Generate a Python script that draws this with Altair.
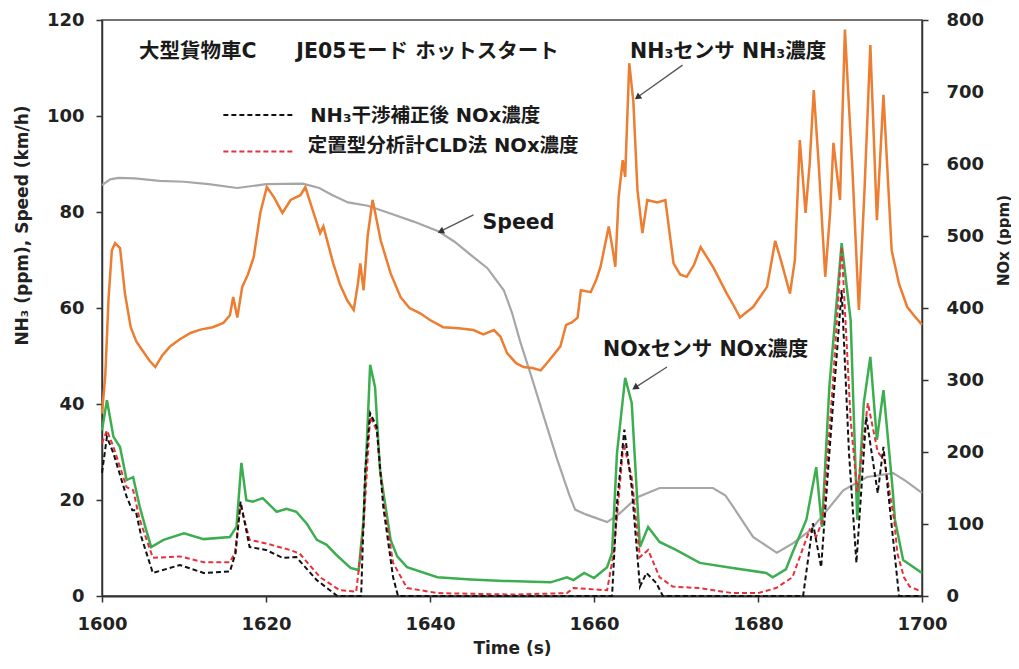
import altair as alt
import pandas as pd

# ---------------- data ----------------
nh3_t = [1600.0, 1600.4, 1600.8, 1601.2, 1601.6, 1602.2, 1602.8, 1603.5, 1604.2, 1605.0,
         1605.8, 1606.5, 1607.3, 1608.3, 1609.5, 1610.8, 1612.0, 1613.5, 1614.8, 1615.6,
         1616.0, 1616.5, 1617.1, 1617.8, 1618.5, 1619.3, 1620.1, 1621.0, 1622.0, 1623.0,
         1624.2, 1624.8, 1625.8, 1626.6, 1627.0, 1628.2, 1629.0, 1629.9, 1630.7, 1631.2,
         1631.5, 1631.9, 1632.4, 1633.0, 1634.0, 1635.2, 1636.4, 1637.5, 1638.8, 1640.0,
         1641.6, 1643.5, 1645.3, 1646.5, 1647.8, 1648.6, 1649.4, 1650.5, 1651.4, 1652.5,
         1653.5, 1654.5, 1655.9, 1656.6, 1657.3, 1658.0, 1658.4, 1659.6, 1660.3, 1660.8,
         1661.8, 1662.3, 1662.6, 1663.0, 1663.5, 1663.8, 1664.3, 1664.8, 1665.3, 1665.9,
         1666.5, 1667.7, 1668.7, 1669.7, 1670.5, 1671.3, 1672.2, 1673.0, 1674.5, 1676.2,
         1677.2, 1677.8, 1678.5, 1679.4, 1681.1, 1682.1, 1682.9, 1683.9, 1684.5, 1685.1,
         1685.8, 1686.3, 1686.8, 1687.4, 1688.2, 1688.8, 1689.2, 1690.0, 1690.6, 1691.0,
         1691.5, 1692.3, 1693.0, 1693.7, 1694.5, 1695.3, 1696.3, 1697.2, 1698.2, 1699.0,
         1699.8, 1700.0]
nh3_v = [38, 46, 62, 72, 73.5, 72.5, 63, 56, 53, 51,
         49, 47.7, 50, 52, 53.5, 54.8, 55.5, 56, 56.9, 58.5,
         62.3, 58, 64.4, 67, 70.6, 79.8, 85.2, 83, 79.8, 82.5,
         83.5, 85.2, 79.8, 75.6, 77, 69.3, 65, 61.6, 59.6, 65,
         69.3, 63.7, 75, 82.5, 74, 67.2, 62.3, 60, 58.9, 57.5,
         56, 55.8, 55.4, 54.5, 55.4, 54, 50.6, 48.5, 47.7, 47.5,
         47, 49, 52, 56.5, 57, 58, 63.7, 63.3, 66, 68.6,
         77, 72, 68.6, 83, 90.8, 87.3, 111, 103, 84.6, 75.6,
         82.5, 82, 82.5, 69.3, 67, 66.5, 69, 72.7, 68.6, 63,
         60, 58, 59, 60.2, 64.4, 74, 69.3, 63, 70, 95,
         79.8, 90, 105.4, 90, 66.5, 80, 94.4, 82.5, 118, 105,
         89.4, 59.6, 85, 114.8, 78.3, 104.4, 72, 65, 60.2, 58.5,
         56.9, 56.5]

speed_t = [1600.0, 1601.0, 1602.0, 1604.0, 1607.0, 1610.0, 1613.0, 1616.5, 1620.0, 1624.5,
           1626.5, 1628.0, 1630.0, 1632.4, 1635.0, 1638.0, 1641.0, 1643.0, 1645.0, 1647.0,
           1649.0, 1650.0, 1651.0, 1652.5, 1654.0, 1655.5, 1657.0, 1657.7, 1659.0, 1661.6,
           1663.0, 1665.3, 1668.0, 1674.5, 1676.0, 1677.0, 1679.4, 1682.3, 1684.3, 1686.4,
           1688.0, 1690.4, 1693.3, 1696.5, 1698.0, 1700.0]
speed_v = [85.6, 86.8, 87.1, 87.0, 86.5, 86.3, 85.8, 85.0, 85.8, 85.9,
           85.0, 83.6, 82.0, 81.3, 79.8, 78.0, 76.0, 73.8, 71.0, 68.3,
           63.7, 59.0, 53.0, 45.0, 36.7, 28.5, 21.0, 18.0, 17.0, 15.4,
           17.0, 20.6, 22.5, 22.5, 21.0, 18.5, 12.3, 9.0, 11.0, 13.7,
           17.0, 22.0, 24.8, 25.6, 24.0, 21.5]

sensor_t = [1600.0, 1600.6, 1601.4, 1602.2, 1603.0, 1603.8, 1604.6, 1605.3, 1606.0, 1607.5,
            1610.0, 1612.4, 1615.6, 1616.4, 1617.0, 1617.6, 1618.4, 1619.6, 1621.3, 1622.5,
            1623.7, 1625.0, 1626.2, 1627.4, 1628.5, 1630.3, 1631.3, 1631.9, 1632.7, 1633.3,
            1633.9, 1635.2, 1636.0, 1637.2, 1640.9, 1645.0, 1649.0, 1654.7, 1656.7, 1657.5,
            1658.8, 1660.0, 1661.6, 1662.2, 1662.8, 1663.8, 1664.6, 1665.6, 1666.6, 1668.0,
            1670.0, 1672.9, 1676.9, 1681.0, 1681.8, 1683.4, 1684.2, 1685.9, 1687.1, 1687.8,
            1688.7, 1690.2, 1691.3, 1692.1, 1692.9, 1693.7, 1694.5, 1695.3, 1696.4, 1696.7,
            1697.7, 1700.0]
sensor_v = [230, 272, 221, 207, 161, 165, 124, 95, 68, 78,
            87, 79, 82, 96, 185, 133, 131, 136, 117, 121,
            117, 100, 78, 71, 58, 39, 36, 106, 321, 290,
            175, 78, 55, 40, 26, 23, 21, 19, 26, 22,
            32, 25, 40, 60, 198, 303, 268, 68, 96, 75,
            64, 46, 39, 32, 26, 37, 60, 106, 179, 96,
            290, 490, 383, 106, 268, 332, 217, 286, 151, 106,
            50, 32]

cld_t = [1600.0, 1600.6, 1601.4, 1603.0, 1603.8, 1604.6, 1606.2, 1609.5, 1612.4, 1615.6,
         1616.2, 1616.9, 1618.0, 1620.0, 1622.9, 1624.1, 1626.6, 1629.0, 1631.0, 1631.9,
         1632.7, 1633.5, 1634.3, 1635.5, 1637.2, 1641.0, 1650.0, 1656.7, 1657.5, 1661.6,
         1662.4, 1663.6, 1664.6, 1665.6, 1666.6, 1668.0, 1669.6, 1672.9, 1676.9, 1680.0,
         1682.2, 1684.2, 1686.3, 1687.1, 1687.9, 1689.1, 1690.2, 1691.3, 1692.1, 1693.4,
         1694.6, 1695.4, 1696.6, 1697.0, 1697.8, 1698.5, 1700.0]
cld_v = [212, 230, 207, 151, 147, 106, 53, 55, 47, 47,
         60, 126, 78, 73, 64, 59, 26, 8, 6, 96,
         249, 230, 133, 46, 11, 4, 2, 4, 11, 8,
         60, 212, 165, 54, 64, 26, 13, 11, 4, 4,
         11, 26, 92, 82, 106, 290, 485, 244, 145, 268,
         200, 189, 106, 59, 26, 13, 6]

corr_t = [1600.0, 1600.6, 1601.4, 1603.0, 1603.7, 1604.1, 1604.8, 1606.2, 1609.5, 1612.4,
          1615.6, 1616.3, 1616.9, 1618.0, 1620.0, 1622.0, 1623.7, 1626.2, 1628.7, 1631.6,
          1632.1, 1632.7, 1633.5, 1634.3, 1635.5, 1636.1, 1662.2, 1662.8, 1663.7, 1664.6,
          1665.6, 1666.4, 1667.6, 1668.4, 1685.5, 1686.7, 1687.7, 1688.7, 1690.2, 1691.1,
          1692.0, 1693.2, 1694.6, 1695.3, 1696.4, 1697.2, 1700.0]
corr_v = [171, 221, 198, 138, 119, 119, 82, 32, 43, 32,
          34, 60, 131, 68, 64, 53, 54, 22, 0, 0,
          175, 254, 235, 124, 26, 0, 0, 129, 231, 151,
          13, 32, 18, 0, 0, 101, 40, 198, 425, 198,
          46, 249, 143, 207, 87, 0, 0]

x_ticks = [1600, 1620, 1640, 1660, 1680, 1700]
left_ticks = [0, 20, 40, 60, 80, 100, 120]
right_ticks = [0, 100, 200, 300, 400, 500, 600, 700, 800]

# annotation texts
label_texts = ["大型貨物車C", "JE05モード ホットスタート", "NH₃センサ NH₃濃度", "Speed", "NOxセンサ NOx濃度"]
label_t = [1604.5, 1623.7, 1664.4, 1646.4, 1661.1]
label_v = [113.3, 113.3, 113.3, 77.7, 51.3]

legend_texts = ["NH₃干渉補正後 NOx濃度", "定置型分析計CLD法 NOx濃度"]
legend_colors = ["#111111", "#E8303A"]

# ---------------- frames ----------------
nh3_df = pd.DataFrame({"t": nh3_t, "v": nh3_v})
speed_df = pd.DataFrame({"t": speed_t, "v": speed_v})
sensor_df = pd.DataFrame({"t": sensor_t, "n": sensor_v})
cld_df = pd.DataFrame({"t": cld_t, "n": cld_v})
corr_df = pd.DataFrame({"t": corr_t, "n": corr_v})
labels_df = pd.DataFrame({"t": label_t, "v": label_v, "text": label_texts})

FONT = "DejaVu Sans"
JFONT = "'DejaVu Sans', 'Noto Sans CJK JP', sans-serif"

x_enc = alt.X("t:Q",
              scale=alt.Scale(domain=[1600, 1700], nice=False, zero=False),
              axis=alt.Axis(values=x_ticks, title="Time (s)", format="d", labelFlush=False,
                            labelFont=FONT, labelFontSize=18, labelFontWeight="bold",
                            labelColor="#222", labelPadding=13,
                            titleFont=FONT, titleFontSize=17, titleFontWeight="bold",
                            titleColor="#222", titleBaseline="middle", titleY=52,
                            domainColor="#333", domainWidth=2, tickColor="#333",
                            tickWidth=1.5, tickSize=6, grid=False))

y_left = alt.Y("v:Q",
               scale=alt.Scale(domain=[0, 120], nice=False),
               axis=alt.Axis(values=left_ticks, title="NH₃ (ppm), Speed (km/h)",
                             labelFont=FONT, labelFontSize=18, labelFontWeight="bold",
                             labelColor="#222", labelPadding=12,
                             titleFont=FONT, titleFontSize=17, titleFontWeight="bold",
                             titleColor="#222", titleBaseline="middle",
                             titleX=-80, titleY=205,
                             domainColor="#333", domainWidth=1.5, tickColor="#333",
                             tickWidth=1.5, tickSize=6, grid=False))

y_right = alt.Y("n:Q",
                scale=alt.Scale(domain=[0, 800], nice=False),
                axis=alt.Axis(orient="right", values=right_ticks, title="NOx (ppm)",
                              labelFont=FONT, labelFontSize=18, labelFontWeight="bold",
                              labelColor="#222", labelPadding=18,
                              titleFont=FONT, titleFontSize=15, titleFontWeight="bold",
                              titleColor="#222", titleBaseline="middle", titleAngle=270,
                              titleX=81, titleY=220,
                              domainColor="#333", domainWidth=1.5, tickColor="#333",
                              tickWidth=1.5, tickSize=6, grid=False))

speed_line = alt.Chart(speed_df).mark_line(color="#A6A6A6", strokeWidth=2.2).encode(x=x_enc, y=y_left)
nh3_line = alt.Chart(nh3_df).mark_line(color="#ED7D31", strokeWidth=2.5).encode(x=x_enc, y=y_left)

text_layer = alt.Chart(labels_df).mark_text(
    align="left", baseline="middle", font=JFONT, fontSize=20.5, fontWeight="bold", color="#1a1a1a"
).encode(x=x_enc, y=y_left, text="text:N")

# arrows (annotation pointers): tail (t, v) -> tip (t2, v2)
arrow_df = pd.DataFrame({
    "t": [1670.8, 1645.3, 1668.9],
    "v": [110.6, 79.4, 47.7],
    "t2": [1665.2, 1641.2, 1664.9],
    "v2": [103.8, 75.9, 43.3],
})
arrow_rules = alt.Chart(arrow_df).mark_rule(color="#555", strokeWidth=1.3).encode(
    x=x_enc, y=y_left, x2="t2:Q", y2="v2:Q")
head_df = pd.DataFrame({
    "t": [1665.3, 1641.3, 1665.0],
    "v": [103.9, 75.95, 43.4],
    "a": [234, 245, 238],
})
arrow_heads = alt.Chart(head_df).mark_point(
    shape="triangle-up", filled=True, size=55, color="#333", opacity=1
).encode(x=x_enc, y=y_left, angle=alt.Angle("a:Q", scale=None))

# legend (drawn inside the plot)
legend_line_df = pd.DataFrame({
    "t": [1614.8, 1614.8],
    "t2": [1623.3, 1623.3],
    "v": [100.2, 92.6],
    "c": legend_colors,
})
legend_lines = alt.Chart(legend_line_df).mark_rule(strokeWidth=2, strokeDash=[5, 3]).encode(
    x=x_enc, y=y_left, x2="t2:Q",
    color=alt.Color("c:N", scale=None))
legend_text_df = pd.DataFrame({
    "t": [1625.4, 1625.1],
    "v": [100.1, 93.7],
    "text": legend_texts,
})
legend_text = alt.Chart(legend_text_df).mark_text(
    align="left", baseline="middle", font=JFONT, fontSize=19.5, fontWeight="bold", color="#1a1a1a"
).encode(x=x_enc, y=y_left, text="text:N")

left = alt.layer(speed_line, nh3_line, text_layer, arrow_rules, arrow_heads, legend_lines, legend_text)

sensor_line = alt.Chart(sensor_df).mark_line(color="#3DAE50", strokeWidth=2.5).encode(x=x_enc, y=y_right)
cld_line = alt.Chart(cld_df).mark_line(color="#E8303A", strokeWidth=2, strokeDash=[5, 3]).encode(x=x_enc, y=y_right)
corr_line = alt.Chart(corr_df).mark_line(color="#111111", strokeWidth=2, strokeDash=[5, 3]).encode(x=x_enc, y=y_right)

right = alt.layer(sensor_line, cld_line, corr_line)

chart = alt.layer(left, right).resolve_scale(y="independent").properties(
    width=820, height=576,
    autosize=alt.AutoSizeParams(type="none"),
    padding={"left": 94, "top": 12, "right": 89, "bottom": 61},
    background="white",
).configure_view(stroke="#444", strokeWidth=1.5)

chart.save("out.html", embed_options={"renderer": "svg", "actions": False})
